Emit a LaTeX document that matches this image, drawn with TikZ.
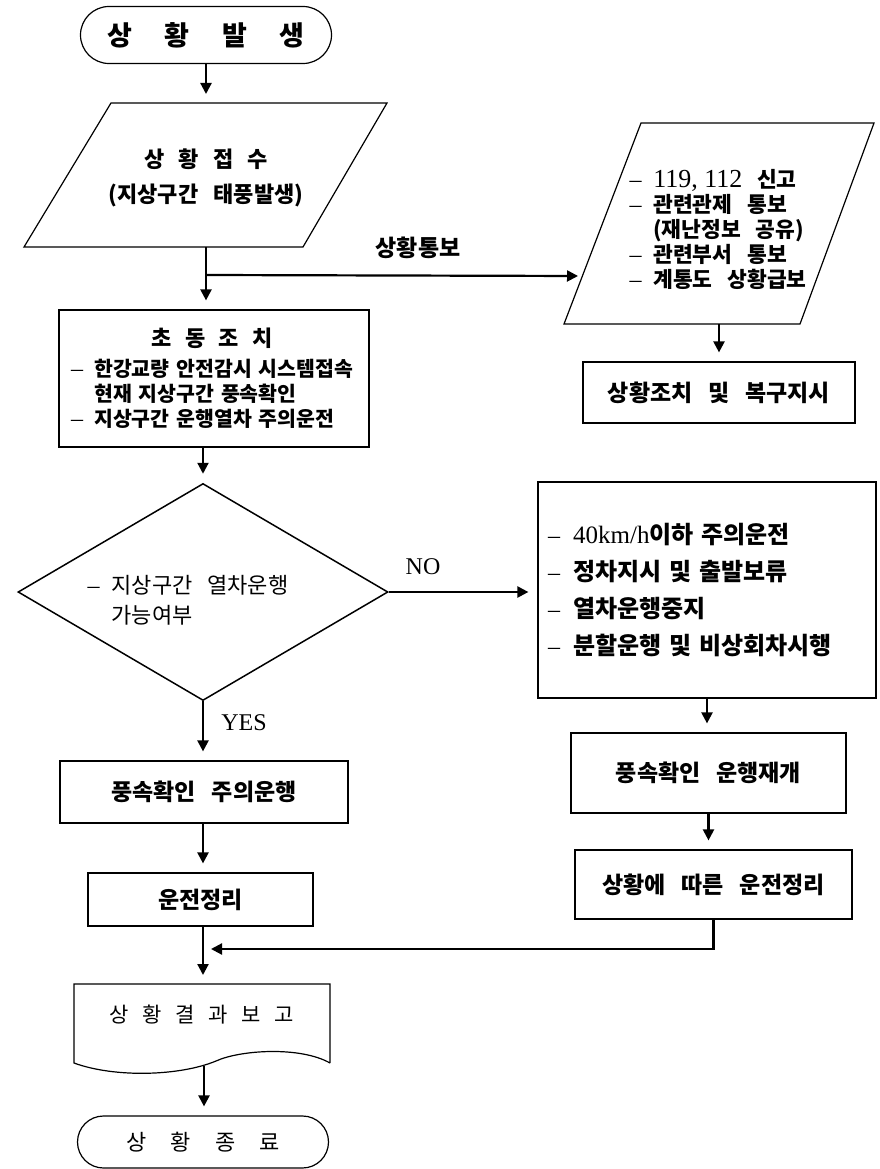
\documentclass[tikz,border=0pt]{standalone}
\usepackage{fontspec}
\setmainfont{Noto Sans CJK KR}[WordSpace=3]
\newfontfamily\romfont{Liberation Serif}
\usetikzlibrary{arrows.meta,shapes.misc,shapes.geometric}
\newcommand\fsz[2]{\fontsize{#1}{#2}\selectfont}
\newcommand\dsh{{\romfont\mdseries\fontsize{24}{24}\selectfont –}\hspace{.55em}}
\begin{document}
\begin{tikzpicture}[x=1pt,y=-1pt,
	box/.style={draw,line width=1.2pt,inner sep=0pt,font=\bfseries\fsz{23}{26}},
	term/.style={draw,rounded rectangle,line width=1.2pt,inner sep=0pt,minimum width=251pt},
	arr/.style={-{Triangle[length=11pt,width=11pt]},line width=2.2pt,shorten >=9pt},
	lbl/.style={font=\romfont\fsz{24}{24}}]
	\useasboundingbox (0,0) rectangle (880,1169);
	% left column
	\node[term,minimum height=57pt,font=\bfseries\fsz{27}{27}] (start) at (206,35) {상\hspace{1.2em}황\hspace{1.2em}발\hspace{1.2em}생};
	\draw[line width=1.2pt] (111,103) -- (387,103) -- (303,247) -- (24,247) -- cycle;
	\node[font=\bfseries\fsz{22}{35},align=center] (recv) at (206,178) {상\hspace{.65em}황\hspace{.65em}접\hspace{.65em}수\\(지상구간 태풍발생)};
	\coordinate (recvt) at (206,103);
	\coordinate (recvb) at (206,247);
	\coordinate (split) at (206,275);
	\node[box,minimum width=310pt,minimum height=137pt,text width=286pt,align=left,font=\bfseries\fsz{20.5}{25}] (init) at (214,378.5)
		{\makebox[282pt]{\fsz{22}{30}초\hspace{.6em}동\hspace{.6em}조\hspace{.6em}치}\\[5pt]
		\dsh 한강교량 안전감시 시스템접속\\\hphantom{\dsh}현재 지상구간 풍속확인\\\dsh 지상구간 운행열차 주의운전};
	\node[draw,diamond,aspect=1.7,line width=1.5pt,inner sep=0pt,minimum width=370pt,minimum height=217pt] (chk) at (203,592) {};
	\node[font=\fsz{22}{30},align=left] (chktxt) at (188,600) {\dsh 지상구간 열차운행\\\hphantom{\dsh}가능여부};
	\node[lbl] (yes) at (244,723) {YES};
	\node[box,minimum width=288pt,minimum height=62pt] (careful) at (204,792) {풍속확인 주의운행};
	\node[box,minimum width=225pt,minimum height=53pt] (wrapup) at (200.5,899.5) {운전정리};
	\coordinate (merge) at (203,949);
	\draw[line width=1.2pt] (330,1063) -- (330,984) -- (74,984) -- (74,1063)
		.. controls (115,1078) and (180,1076) .. (216,1061)
		.. controls (240,1050) and (300,1046) .. (330,1063);
	\node[font=\fsz{21}{21}] (rpt) at (202,1015) {상\hspace{.65em}황\hspace{.65em}결\hspace{.65em}과\hspace{.65em}보\hspace{.65em}고};
	\coordinate (rpttop) at (203,984);
	\coordinate (rptb) at (204,1066);
	\node[term,minimum height=52pt,font=\fsz{22}{22}] (finish) at (203,1142) {상\hspace{1.1em}황\hspace{1.1em}종\hspace{1.1em}료};
	% right column
	\draw[line width=1.2pt] (641,123) -- (874,123) -- (800,324) -- (564,324) -- cycle;
	\node[font=\bfseries\fsz{21.5}{25},align=left,anchor=west] (noti) at (626,229)
		{\dsh{\romfont\mdseries\fsz{26}{25}119, 112} 신고\\\dsh 관련관제 통보\\\hphantom{\dsh}(재난정보 공유)\\\dsh 관련부서 통보\\\dsh 계통도 상황급보};
	\coordinate (notil) at (582,276);
	\coordinate (notib) at (719,324);
	\node[font=\bfseries\fsz{23}{23}] (report) at (418,248) {상황통보};
	\node[box,minimum width=272pt,minimum height=61pt] (act) at (719,392.5) {상황조치 및 복구지시};
	\node[lbl] (no) at (423,567) {NO};
	\node[box,minimum width=338pt,minimum height=216pt,text width=318pt,align=left,font=\bfseries\fsz{24}{37}] (nobox) at (707,590)
		{\dsh{\romfont\mdseries\fsz{25}{37}40km/h}이하 주의운전\\\dsh 정차지시 및 출발보류\\\dsh 열차운행중지\\\dsh 분할운행 및 비상회차시행};
	\node[box,minimum width=275pt,minimum height=80pt] (resume) at (708.5,773) {풍속확인 운행재개};
	\node[box,minimum width=277pt,minimum height=69pt] (revise) at (713.5,884.5) {상황에 따른 운전정리};
	% connectors
	\draw[arr] (start.south -| recvt) -- (recvt);
	\draw[arr] (recvb) -- (recvb |- init.north);
	\draw[arr,shorten >=4pt] (split) -- (notil);
	\draw[arr] (notib) -- (act.north);
	\draw[arr] (chk.north |- init.south) -- (chk.north);
	\draw[arr] (chk.east) -- (chk.east -| nobox.west);
	\draw[arr] (chk.south) -- (chk.south |- careful.north);
	\draw[arr] (chk.south |- careful.south) -- (chk.south |- wrapup.north);
	\draw[arr] (rpttop |- wrapup.south) -- (rpttop);
	\draw[arr,shorten >=8pt] (revise.south) |- (merge);
	\draw[arr] (rptb) -- (rptb |- finish.north);
	\draw[arr] (nobox.south) -- (nobox.south |- resume.north);
	\draw[arr] (resume.south) -- (resume.south |- revise.north);
\end{tikzpicture}
\end{document}
